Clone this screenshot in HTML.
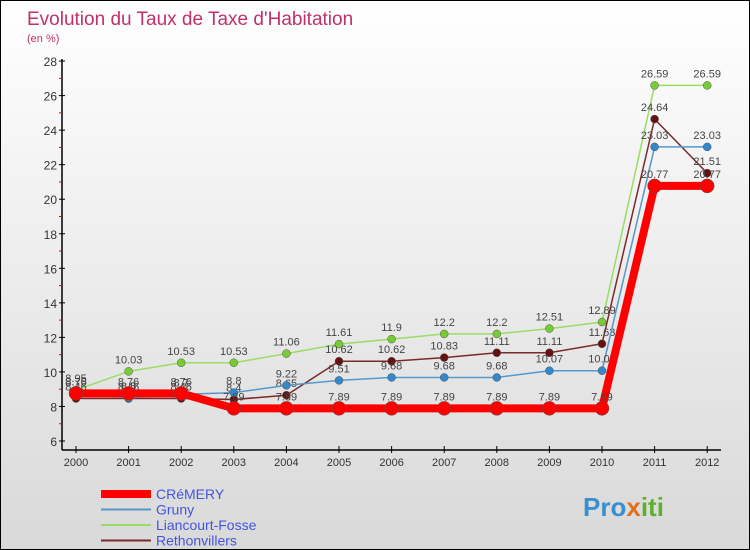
<!DOCTYPE html>
<html><head><meta charset="utf-8">
<style>
body{margin:0;}
#wrap{position:relative;width:748px;height:548px;border:1px solid #000;background:linear-gradient(#ffffff,#d9d9d9);font-family:"Liberation Sans",sans-serif;overflow:hidden;}
</style></head>
<body>
<div id="wrap">
<svg id="svg" width="748" height="548" xmlns="http://www.w3.org/2000/svg">
<text x="26" y="24" font-size="19" fill="#c0306a">Evolution du Taux de Taxe d'Habitation</text>
<text x="26" y="41" font-size="11" fill="#c0306a">(en %)</text>
<g id="axes"></g>
<g id="series"></g>
<g id="legend"></g>
<text x="582" y="515" font-size="26" font-weight="bold" fill="#3a8fd0">Pro<tspan fill="#e07020">x</tspan><tspan fill="#60b030">iti</tspan></text>
</svg>
</div>
<script>
const years=["2000","2001","2002","2003","2004","2005","2006","2007","2008","2009","2010","2011","2012"];
const yTicks=[6,8,10,12,14,16,18,20,22,24,26,28];
const cremery=[8.76,8.76,8.76,7.89,7.89,7.89,7.89,7.89,7.89,7.89,7.89,20.77,20.77];
const gruny=[8.75,8.5,8.7,8.8,9.22,9.51,9.68,9.68,9.68,10.07,10.07,23.03,23.03];
const liancourt=[8.95,10.03,10.53,10.53,11.06,11.61,11.9,12.2,12.2,12.51,12.89,26.59,26.59];
const rethon=[8.46,8.46,8.46,8.4,8.65,10.62,10.62,10.83,11.11,11.11,11.63,24.64,21.51];
const seriesNames=["CRéMERY","Gruny","Liancourt-Fosse","Rethonvillers"];
const NS="http://www.w3.org/2000/svg";
const X=i=>75+i*52.6;
const Y=v=>440-(v-6)*17.27;
function mk(p,tag,at){const e=document.createElementNS(NS,tag);for(const k in at)e.setAttribute(k,at[k]);p.appendChild(e);return e;}
const ax=document.getElementById('axes');
let l=mk(ax,'line',{x1:61,y1:58,x2:61,y2:449,stroke:'#000','stroke-width':1.5});

l=mk(ax,'line',{x1:61,y1:449,x2:720,y2:449,stroke:'#000','stroke-width':1.5});

yTicks.forEach(v=>{
 mk(ax,'line',{x1:58,y1:Y(v),x2:64,y2:Y(v),stroke:'#000'});
 if(v<28) mk(ax,'line',{x1:58,y1:Y(v+1),x2:61,y2:Y(v+1),stroke:'#e00'});
 const t=mk(ax,'text',{x:56,y:Y(v)+5,'font-size':12,fill:'#333','text-anchor':'end'});t.textContent=v;
 
});
years.forEach((y,i)=>{
 mk(ax,'line',{x1:X(i),y1:445,x2:X(i),y2:452,stroke:'#000'});
 const t=mk(ax,'text',{x:X(i),y:465,'font-size':11,fill:'#333','text-anchor':'middle'});t.textContent=y;
 
});
const sg=document.getElementById('series');
function draw(data,color,w,r,fill,name){
 const g=mk(sg,'g',{});
 
 mk(g,'polyline',{points:data.map((v,i)=>X(i)+','+Y(v)).join(' '),fill:'none',stroke:color,'stroke-width':w});
 data.forEach((v,i)=>{
  const c=mk(g,'circle',{cx:X(i),cy:Y(v),r:r,fill:fill,stroke:'#555','stroke-width':0.5});
  
  const t=mk(g,'text',{x:X(i),y:Y(v)-8,'font-size':11,fill:'#444','text-anchor':'middle'});t.textContent=v;
 });
}
draw(liancourt,'#99dd66',1.5,4,'#77cc33','series-liancourt');
draw(rethon,'#7a2a2a',1.5,4,'#661111','series-rethonvillers');
draw(gruny,'#5599cc',1.5,4,'#3388cc','series-gruny');
draw(cremery,'#ff0000',8,7,'#ff0000','series-cremery');
const lg=document.getElementById('legend');
const lc=['#ff0000','#5599cc','#99dd66','#7a2a2a'],lw=[8,2,2,2];
seriesNames.forEach((n,i)=>{
 const y=493+i*15.5;
 mk(lg,'line',{x1:100,y1:y,x2:150,y2:y,stroke:lc[i],'stroke-width':lw[i]});
 const t=mk(lg,'text',{x:155,y:y+5,'font-size':14,fill:'#4455dd'});t.textContent=n;
 
});
</script>
</body></html>
